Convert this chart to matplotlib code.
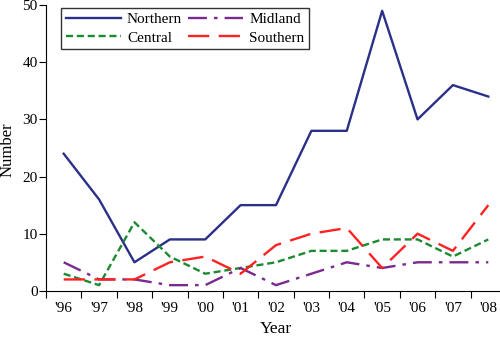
import matplotlib
matplotlib.use("Agg")
import matplotlib.pyplot as plt

years = ["'96", "'97", "'98", "'99", "'00", "'01", "'02", "'03", "'04", "'05", "'06", "'07", "'08"]
northern = [24, 16, 5, 9, 9, 15, 15, 28, 28, 49, 30, 36, 34]
midland = [5, 2, 2, 1, 1, 4, 1, 3, 5, 4, 5, 5, 5]
central = [3, 1, 12, 6, 3, 4, 5, 7, 7, 9, 9, 6, 9]
southern = [2, 2, 2, 5, 6, 3, 8, 10, 11, 4, 10, 7, 15]

plt.rcParams['font.family'] = ['Liberation Serif', 'DejaVu Serif']

fig = plt.figure(figsize=(5, 3.39), dpi=100)
ax = fig.add_axes([0.092, 0.142, 0.92, 0.843])
x = list(range(len(years)))
ax.plot(x, northern, color='#2a2f88', lw=1.7, label='Northern')
ax.plot(x, central, color='#1b8a30', lw=1.7, ls=(0, (3, 1.6)), label='Central')
ax.plot(x, midland, color='#7a2a8e', lw=1.7, ls=(0, (8, 3, 1.5, 3)), label='Midland')
ax.plot(x, southern, color='#ff2222', lw=1.7, ls=(0, (9, 4)), label='Southern')

ax.set_xlim(-0.5, 12.5)
ax.set_ylim(0, 50)
ax.set_yticks(range(0, 51, 10))
ax.set_xticks([i - 0.5 for i in range(14)], minor=False)
ax.set_xticklabels([])
ax.set_xticks(x, minor=True)
ax.set_xticklabels(years, minor=True)
ax.tick_params(axis='x', which='minor', length=0, labelsize=11, pad=8)
ax.tick_params(axis='x', which='major', length=5, direction='out')
ax.tick_params(axis='y', labelsize=11, length=5, direction='out', pad=1)
for s in ['top', 'right']:
    ax.spines[s].set_visible(False)
ax.set_xlabel('Year', fontsize=12.5, labelpad=4)
ax.set_ylabel('Number', fontsize=12)
ax.yaxis.set_label_coords(-0.066, 0.493)

h, l = ax.get_legend_handles_labels()
leg = ax.legend(h, l, ncol=2, loc='upper left', bbox_to_anchor=(0.03, 0.995),
                fontsize=11, frameon=True, fancybox=False, edgecolor='black',
                handlelength=3.6, columnspacing=0.4, borderaxespad=0.1,
                labelspacing=0.3, handletextpad=0.4, borderpad=0.3)
leg.get_frame().set_linewidth(1.0)

fig.savefig('out.png', dpi=100)
